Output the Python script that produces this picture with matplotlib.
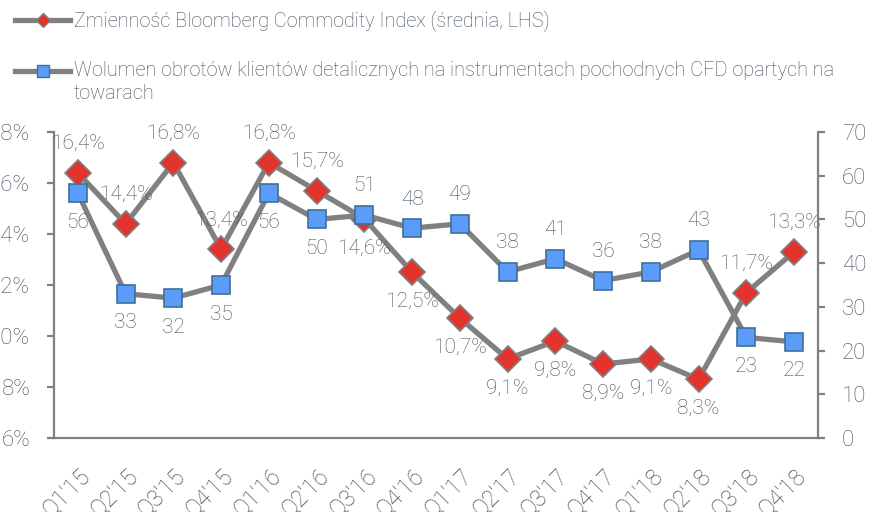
import matplotlib
matplotlib.use("Agg")
import matplotlib.pyplot as plt
from matplotlib.lines import Line2D

# Chart data
quarters = ["Q1'15", "Q2'15", "Q3'15", "Q4'15", "Q1'16", "Q2'16", "Q3'16", "Q4'16",
            "Q1'17", "Q2'17", "Q3'17", "Q4'17", "Q1'18", "Q2'18", "Q3'18", "Q4'18"]
volatility = [16.4, 14.4, 16.8, 13.4, 16.8, 15.7, 14.6, 12.5,
              10.7, 9.1, 9.8, 8.9, 9.1, 8.3, 11.7, 13.3]
volume = [56, 33, 32, 35, 56, 50, 51, 48, 49, 38, 41, 36, 38, 43, 23, 22]

# where each data label sits: +1 above the point, -1 below
vol_label_side = [1, 1, 1, 1, 1, 1, -1, -1, -1, -1, -1, -1, -1, -1, 1, 1]
volume_label_side = [-1, -1, -1, -1, -1, -1, 1, 1, 1, 1, 1, 1, 1, 1, -1, -1]

legend_labels = [
    "Zmienność Bloomberg Commodity Index (średnia, LHS)",
    "Wolumen obrotów klientów detalicznych na instrumentach pochodnych CFD opartych na\ntowarach",
]

TEXT = "#404e5c"
GREY = "#808080"
RED = "#e2332d"
BLUE = "#5b9cf9"
BLUE_EDGE = "#3f709a"

plt.rcParams["font.family"] = ["Roboto", "DejaVu Sans"]
plt.rcParams["font.weight"] = "light"


def main() -> None:
    fig = plt.figure(figsize=(8.7, 5.12), dpi=100)
    W, H = 870, 512
    ax = fig.add_axes([54 / W, 1 - 438 / H, (818 - 54) / W, (438 - 132) / H])
    ax2 = ax.twinx()

    x = list(range(len(quarters)))

    ax2.plot(x, volume, color=GREY, lw=3.8, marker="s", markersize=13,
             markerfacecolor=BLUE, markeredgecolor=BLUE_EDGE, markeredgewidth=1.2, zorder=2)
    ax.plot(x, volatility, color=GREY, lw=3.8, marker="D", markersize=13,
            markerfacecolor=RED, markeredgecolor=GREY, markeredgewidth=1.2, zorder=3)
    # left axis sits behind the right one (blue square covers red at Q3'16)
    ax.set_zorder(ax2.get_zorder() - 1)
    ax.patch.set_visible(False)

    for xi, v, s in zip(x, volatility, vol_label_side):
        ax.annotate(f"{v:.1f}%".replace(".", ","), (xi, v), xytext=(0, 21 * s),
                    textcoords="offset points", ha="center", va="center",
                    fontsize=15, color=TEXT)
    for xi, v, s in zip(x, volume, volume_label_side):
        ax2.annotate(f"{v}", (xi, v), xytext=(0, 21 * s),
                     textcoords="offset points", ha="center", va="center",
                     fontsize=15, color=TEXT)

    ax.set_xlim(-0.5, len(quarters) - 0.5)
    ax.set_ylim(6, 18)
    ax2.set_ylim(0, 70)
    ax.set_yticks(range(6, 19, 2))
    ax.set_yticklabels([f"{t}%" for t in range(6, 19, 2)])
    ax2.set_yticks(range(0, 71, 10))

    ax.set_xticks(x)
    ax.set_xticklabels(quarters, rotation=45, ha="right", rotation_mode="anchor")

    for a in (ax, ax2):
        a.spines["top"].set_visible(False)
        for sp in a.spines.values():
            sp.set_color(GREY)
            sp.set_linewidth(1.6)
    ax.spines["right"].set_visible(False)
    ax2.spines["left"].set_visible(False)
    ax2.spines["bottom"].set_visible(False)

    ax.tick_params(axis="y", length=5, width=1.6, color=GREY, pad=12,
                   labelsize=16, labelcolor=TEXT)
    ax2.tick_params(axis="y", length=5, width=1.6, color=GREY, pad=12,
                    labelsize=16, labelcolor=TEXT)
    ax.tick_params(axis="x", length=0, pad=19, labelsize=16.5, labelcolor=TEXT)

    # legend drawn at the top left
    def px(xp, yp):
        return xp / W, 1 - yp / H

    key_specs = [
        dict(marker="D", markersize=7, markerfacecolor=RED, markeredgecolor=GREY, y=20),
        dict(marker="s", markersize=9, markerfacecolor=BLUE, markeredgecolor=BLUE_EDGE, y=71),
    ]
    for spec, label in zip(key_specs, legend_labels):
        yk = spec.pop("y")
        x0, y0 = px(15, yk)
        x1, _ = px(70, yk)
        xm, _ = px(43, yk)
        fig.add_artist(Line2D([x0, x1], [y0, y0], color=GREY, lw=3.8,
                              transform=fig.transFigure))
        fig.add_artist(Line2D([xm], [y0], lw=0, markeredgewidth=1, transform=fig.transFigure, **spec))
        tx, ty = px(74, yk - 10)
        fig.text(tx, ty, label, fontsize=14.3, color=TEXT, va="top", ha="left", linespacing=1.25)

    fig.savefig("out.png", dpi=100)


if __name__ == "__main__":
    main()
